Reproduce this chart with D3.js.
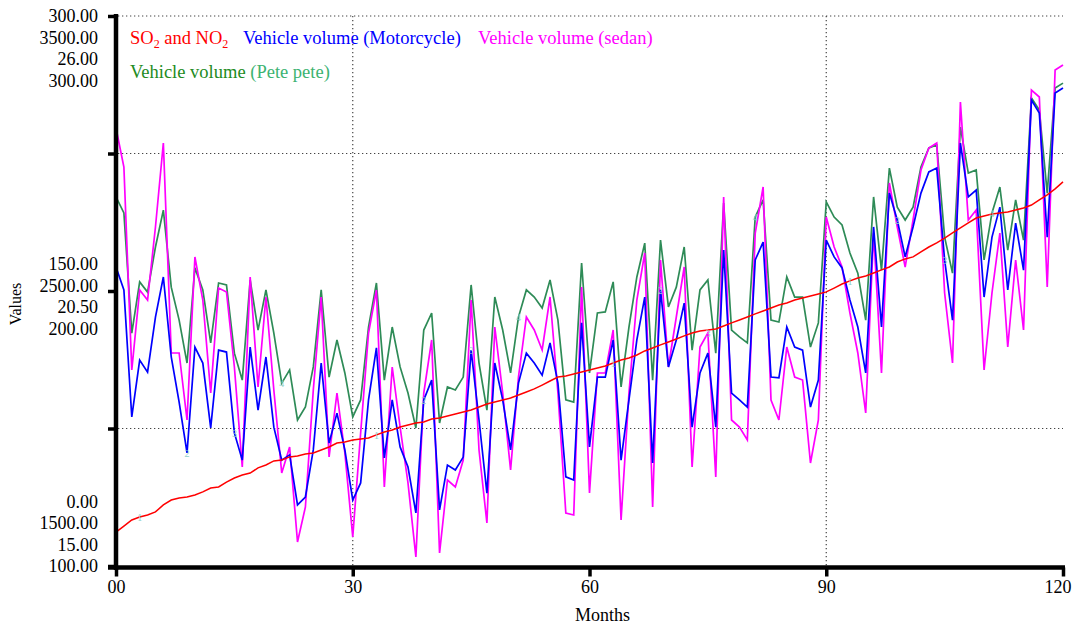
<!DOCTYPE html>
<html>
<head>
<meta charset="utf-8">
<script src="https://cdn.jsdelivr.net/npm/d3@7"></script>
<style>
  body { margin: 0; background: #fff; }
  text { font-family: "Liberation Serif", "Times New Roman", serif; font-size: 18px; }
</style>
</head>
<body>
<svg id="chart" width="1074" height="627"></svg>
<script>
// months on the x axis
const months = d3.range(0, 121)
const xTicks = [0, 30, 60, 90, 120]
const xTickLabels = ["00", "30", "60", "90", "120"]

// SO2 and NO2 (left scale 0 - 300)
const so2no2 = [18.5,21.8,25.1,26.7,27.8,29.5,33.3,36.0,37.1,37.6,
  38.7,40.4,42.5,43.1,45.8,48.0,49.6,50.7,53.5,55.1,
  57.3,57.8,59.5,60.0,61.1,61.6,63.3,64.9,67.1,67.6,
  68.7,69.3,69.8,71.5,73.1,74.2,75.8,76.9,78.0,78.6,
  80.2,80.7,81.8,82.9,84.0,85.1,86.7,88.4,89.5,90.6,
  91.6,93.3,94.9,96.6,98.7,100.9,103.1,103.6,104.7,105.8,
  106.9,108.0,109.1,110.7,112.4,113.5,115.1,117.3,118.9,120.6,
  122.2,123.8,125.5,127.1,128.2,128.7,129.3,130.9,132.6,134.2,
  135.8,137.5,139.1,140.7,142.4,143.5,145.1,146.2,147.3,148.4,
  149.5,151.6,153.8,155.5,157.1,158.2,159.8,161.5,163.1,165.8,
  167.5,168.6,171.3,174.0,176.2,178.9,181.7,184.4,187.1,189.8,
  190.9,192.0,192.6,193.1,194.2,195.3,196.9,199.7,202.4,205.7,
  209.5]

// Vehicle volume (Motorcycle) (1500 - 3500)
const motorcycle = [2587,2504,2042,2249,2205,2405,2551,2260,2096,1911,
  2296,2238,2002,2285,2278,1984,1885,2296,2067,2260,
  2005,1885,1904,1722,1751,1922,2238,1947,2056,1922,
  1740,1802,2104,2293,1893,2104,1933,1860,1693,2104,
  2176,1704,1867,1849,1896,2285,2031,1765,2238,2104,
  1922,2165,2274,2238,2194,2311,2165,1824,1813,2384,
  1933,2187,2187,2322,1885,2104,2322,2478,1875,2504,
  2224,2322,2456,2005,2202,2274,2005,2649,2129,2104,
  2078,2613,2678,2187,2184,2369,2296,2285,2078,2176,
  2685,2624,2584,2467,2369,2202,2733,2369,2856,2758,
  2624,2733,2856,2933,2947,2613,2394,3038,2842,2867,
  2478,2696,2805,2504,2747,2576,3194,3147,2696,3220,
  3238]

// Vehicle volume (sedan) (15 - 26)
const sedan = [23.76,22.98,18.92,20.52,20.32,21.78,23.46,19.26,19.26,17.92,
  21.18,20.32,18.46,20.56,20.48,18.98,16.98,20.78,18.58,20.38,
  18.52,16.86,17.38,15.48,16.18,18.52,20.38,17.18,18.46,17.26,
  15.58,17.66,19.66,20.52,16.58,18.98,17.78,16.66,15.18,18.46,
  19.52,15.26,16.72,16.58,17.12,20.32,17.32,15.86,19.78,18.46,
  16.92,18.78,19.98,19.72,19.32,20.38,18.46,16.06,16.02,20.58,
  16.46,18.86,18.86,19.72,15.92,18.46,20.32,21.26,16.18,21.12,
  18.98,19.98,20.98,16.98,19.38,19.66,16.78,22.38,17.92,17.78,
  17.52,21.66,22.58,18.32,17.92,19.38,18.78,18.72,17.06,17.92,
  21.98,21.38,20.98,20.06,19.26,18.06,21.66,18.86,22.66,21.78,
  20.98,21.92,22.92,23.36,23.46,20.46,19.06,24.28,21.92,22.12,
  18.92,20.46,21.66,19.38,21.12,19.72,24.52,24.38,20.58,24.92,
  25.02]

// Vehicle volume (Pete pete) (100 - 300)
const petepete = [234.2,228.4,184.7,203.3,199.6,216.0,229.4,201.4,189.4,173.8,
  208.4,200.4,181.1,202.9,202.2,177.4,167.6,204.0,185.8,200.4,
  184.7,166.5,171.3,153.1,157.8,172.4,200.4,168.7,182.2,170.2,
  154.2,160.4,186.9,202.9,167.6,186.9,172.4,162.9,150.2,185.8,
  192.0,152.0,165.1,164.0,168.7,202.2,173.8,156.7,197.8,185.8,
  170.2,190.5,200.4,197.8,193.8,204.0,189.4,160.4,159.6,210.2,
  170.2,192.0,192.4,203.3,165.1,186.9,205.1,217.4,167.6,218.5,
  194.2,201.4,216.0,178.5,200.4,204.0,177.4,232.0,185.8,183.3,
  181.1,226.9,233.1,189.4,188.7,205.1,197.8,197.8,179.6,188.4,
  232.4,226.9,224.0,213.8,206.5,189.4,234.2,207.6,244.7,230.5,
  225.8,230.5,245.1,252.0,253.1,219.6,206.5,259.6,242.9,244.0,
  211.3,228.4,237.8,214.9,233.1,218.5,270.2,265.8,235.6,273.8,
  275.6]

// the four value scales, in the order their tick labels are stacked
const seriesNames = ["SO2 and NO2", "Vehicle volume (Motorcycle)", "Vehicle volume (sedan)", "Vehicle volume (Pete pete)"]
const seriesDomains = [[0, 300], [1500, 3500], [15, 26], [100, 300]]
const seriesColors = ["#ff0000", "#0000ff", "#ff00ff", "#2e8b57"]
const seriesData = [so2no2, motorcycle, sedan, petepete]

// little point markers seen along the lines: [series index, month, text]
const pointMarks = [[0,3,"1"],[1,9,"2"],[1,15,"3"],[3,21,"4"],[0,33,"1"],[1,39,"2"],[1,45,"3"],[3,51,"4"],
  [0,63,"1"],[1,69,"2"],[2,75,"3"],[3,81,"4"],[0,93,"1"],[1,99,"2"],[1,105,"3"],[3,111,"4"]]

const svg = d3.select("#chart")
const plotL = 116, plotR = 1063, plotT = 16, plotB = 566

const x = d3.scaleLinear().domain([0, 120]).range([plotL, plotR])
const yFrac = d3.scaleLinear().domain([0, 1]).range([plotB, plotT])
const yScales = seriesDomains.map(d => d3.scaleLinear().domain(d).range([plotB, plotT]))

// grid (dotted)
const grid = svg.append("g").attr("stroke", "#444").attr("stroke-width", 1.2).attr("stroke-dasharray", "1.3,2.7")
;[1, 0.75, 0.25].forEach(f => {
    grid.append("line").attr("x1", plotL + 2).attr("x2", plotR).attr("y1", yFrac(f)).attr("y2", yFrac(f))
})
;[30, 90].forEach(m => {
    grid.append("line").attr("x1", x(m)).attr("x2", x(m)).attr("y1", plotT).attr("y2", plotB)
})

// lines: green, magenta, blue, red on top
const drawOrder = [3, 2, 1, 0]
drawOrder.forEach(i => {
    const line = d3.line()
        .x((d, j) => x(months[j]))
        .y(d => yScales[i](d))
    svg.append("path")
        .datum(seriesData[i])
        .attr("fill", "none")
        .attr("stroke", seriesColors[i])
        .attr("stroke-width", i == 0 ? 1.5 : 1.7)
        .attr("d", line)
})

// point markers
svg.append("g").selectAll("text").data(pointMarks).join("text")
    .attr("x", d => x(d[1]))
    .attr("y", d => yScales[d[0]](seriesData[d[0]][d[1]]) + 4)
    .attr("text-anchor", "middle")
    .style("font-size", "10px")
    .attr("fill", "#8fcfc8")
    .text(d => d[2])

// x axis
const xAxis = svg.append("g")
    .attr("transform", `translate(0,${plotB + 1.5})`)
    .call(d3.axisBottom(x).tickValues(xTicks).tickFormat((d, i) => xTickLabels[i]).tickSize(9).tickSizeOuter(0).tickPadding(4))
xAxis.select(".domain").attr("stroke-width", 4.5).attr("d", `M${plotL - 8},0H${plotR + 2}`)
xAxis.selectAll(".tick line").attr("stroke-width", 3.5)
xAxis.selectAll("text").style("font-size", "18px").attr("fill", "#000").attr("font-family", null)
// last label sits a little inside the right edge
xAxis.selectAll(".tick text").filter(d => d === 120).attr("text-anchor", "end").attr("x", 8)

// y axis
const yAxis = svg.append("g")
    .attr("transform", `translate(${plotL},0)`)
    .call(d3.axisLeft(yFrac).tickValues([0, 0.25, 0.5, 0.75, 1]).tickFormat("").tickSize(8).tickSizeOuter(0))
yAxis.select(".domain").attr("stroke-width", 4.5).attr("d", `M0,${plotT - 2}V${plotB + 4}`)
yAxis.selectAll(".tick line").attr("stroke-width", 3.5)

// stacked y tick labels, one per scale
const fmt = d3.format(".2f")
const gap = 21.5
const yLab = svg.append("g").attr("text-anchor", "end")
yScales.forEach((s, i) => {
    const [lo, hi] = s.domain()
    const mid = (lo + hi) / 2
    yLab.append("text").attr("x", 98).attr("y", s(hi) + i * gap).attr("dy", "0.35em").text(fmt(hi))
    yLab.append("text").attr("x", 98).attr("y", s(mid) + (i - 1.25) * gap).attr("dy", "0.35em").text(fmt(mid))
    yLab.append("text").attr("x", 98).attr("y", s(lo) - (3 - i) * gap).attr("dy", "0.35em").text(fmt(lo))
})

// axis titles
svg.append("text").attr("x", (plotL + plotR) / 2 + 13).attr("y", 621).attr("text-anchor", "middle").text("Months")
svg.append("text").attr("transform", "translate(21,304) rotate(-90)").attr("text-anchor", "middle")
    .style("font-size", "16px").text("Values")

// legend
const lg = svg.append("g")
const t0 = lg.append("text").attr("x", 130).attr("y", 44).attr("fill", seriesColors[0]).style("font-size", "18.5px")
t0.append("tspan").text("SO")
t0.append("tspan").attr("dy", 4).style("font-size", "12px").text("2")
t0.append("tspan").attr("dy", -4).text(" and NO")
t0.append("tspan").attr("dy", 4).style("font-size", "12px").text("2")
lg.append("text").attr("x", 243).attr("y", 44).attr("fill", seriesColors[1]).style("font-size", "18.5px").text(seriesNames[1])
lg.append("text").attr("x", 478).attr("y", 44).attr("fill", seriesColors[2]).style("font-size", "18.5px").text(seriesNames[2])
const t3 = lg.append("text").attr("x", 130).attr("y", 78).style("font-size", "18.5px")
t3.append("tspan").attr("fill", "#228b22").text("Vehicle volume ")
t3.append("tspan").attr("fill", "#3cb371").text("(Pete pete)")
</script>
</body>
</html>
